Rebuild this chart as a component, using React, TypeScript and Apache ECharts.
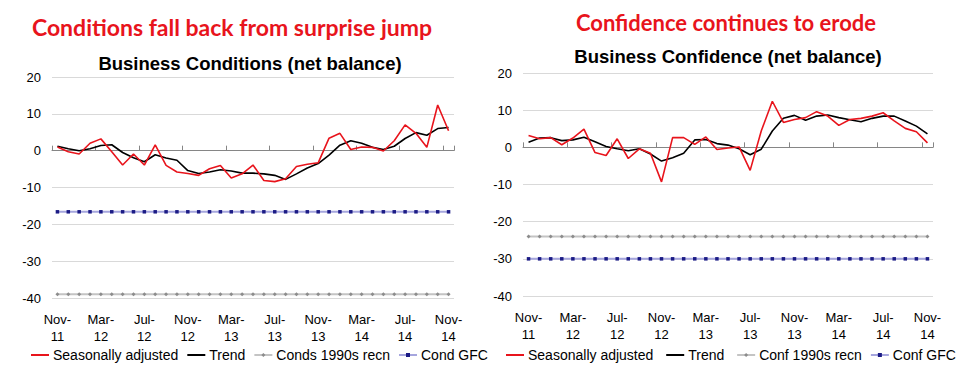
import React, { useEffect, useRef } from "react";
import * as echarts from "echarts";

const months = [
  "Nov-11", "Dec-11", "Jan-12", "Feb-12", "Mar-12", "Apr-12", "May-12", "Jun-12", "Jul-12", "Aug-12",
  "Sep-12", "Oct-12", "Nov-12", "Dec-12", "Jan-13", "Feb-13", "Mar-13", "Apr-13", "May-13", "Jun-13",
  "Jul-13", "Aug-13", "Sep-13", "Oct-13", "Nov-13", "Dec-13", "Jan-14", "Feb-14", "Mar-14", "Apr-14",
  "May-14", "Jun-14", "Jul-14", "Aug-14", "Sep-14", "Oct-14", "Nov-14",
];

const condsSA = [
  1.0, -0.3, -0.9, 2.0, 3.2, -0.3, -3.9, -0.9, -3.9, 1.6,
  -4.0, -5.8, -6.2, -6.7, -4.9, -4.0, -7.4, -6.3, -3.9, -8.1,
  -8.4, -7.6, -4.3, -3.7, -3.3, 3.4, 4.7, 0.3, 1.0, 0.9,
  -0.1, 2.7, 7.0, 4.7, 0.9, 12.4, 5.4,
];
const condsTrend = [
  1.2, 0.5, 0.0, 0.5, 1.4, 1.6, -0.5, -1.9, -3.0, -1.1,
  -2.0, -2.6, -5.4, -6.2, -5.8, -5.2, -5.5, -6.1, -6.1, -6.3,
  -6.7, -7.8, -6.3, -4.7, -3.5, -1.2, 1.5, 2.7, 2.0, 0.9,
  0.3, 1.2, 3.3, 4.9, 4.2, 6.0, 6.3,
];
const condsRecn1990sLevel = -39;
const condGFCLevel = -16.6;

const confSA = [
  3.2, 2.3, 2.6, 0.7, 2.5, 4.9, -1.4, -2.2, 2.3, -3.0,
  -0.4, -1.6, -9.3, 2.6, 2.6, 0.8, 2.8, -0.6, -0.2, 0.1,
  -6.2, 4.4, 12.4, 6.7, 7.5, 8.0, 9.6, 8.4, 5.9, 7.5,
  7.8, 8.4, 9.3, 7.1, 5.1, 4.2, 1.2,
];
const confTrend = [
  1.4, 2.5, 2.6, 1.8, 2.0, 2.7, 1.5, 0.2, -0.4, -0.9,
  -0.4, -1.8, -3.7, -2.8, -1.6, 2.0, 2.1, 1.0, 0.6, -0.4,
  -2.0, -0.5, 4.4, 7.8, 8.6, 7.3, 8.4, 8.7, 8.0, 7.4,
  6.9, 7.8, 8.4, 8.4, 7.1, 5.7, 3.6,
];
const confRecn1990sLevel = -24;
const confGFCLevel = -30;

const yTicks = { min: -40, max: 20, interval: 10 };

const condsRecn1990s = months.map(() => condsRecn1990sLevel);
const condGFC = months.map(() => condGFCLevel);
const confRecn1990s = months.map(() => confRecn1990sLevel);
const confGFC = months.map(() => confGFCLevel);

const RED = "#e8141c";
const AXIS_FONT = "Liberation Sans";

function labelAxis(gridIndex: number) {
  return {
    type: "category",
    gridIndex,
    data: months,
    boundaryGap: true,
    position: "bottom",
    axisLine: { show: false, onZero: false },
    axisTick: { show: false },
    splitLine: { show: false },
    axisLabel: {
      interval: 3,
      color: "#000",
      fontFamily: AXIS_FONT,
      fontSize: 13,
      lineHeight: 17,
      margin: 13,
      formatter: (v: string) => v.replace("-", "-\n"),
    },
  };
}

function zeroAxis(gridIndex: number) {
  return {
    type: "category",
    gridIndex,
    data: months,
    boundaryGap: true,
    position: "bottom",
    axisLine: { show: true, onZero: true, lineStyle: { color: "#868686", width: 1 } },
    axisTick: { show: true, inside: true, interval: 3, length: 5, lineStyle: { color: "#868686" } },
    axisLabel: { show: false },
    splitLine: { show: false },
  };
}

function valueAxis(gridIndex: number) {
  return {
    type: "value",
    gridIndex,
    min: yTicks.min,
    max: yTicks.max,
    interval: yTicks.interval,
    axisLine: { show: false },
    axisTick: { show: false },
    splitLine: { show: true, lineStyle: { color: "#d9d9d9", width: 1 } },
    axisLabel: { color: "#000", fontFamily: AXIS_FONT, fontSize: 13, margin: 11 },
  };
}

function lineSeries(name: string, data: number[], xi: number, yi: number, color: string) {
  return {
    name,
    type: "line",
    xAxisIndex: xi,
    yAxisIndex: yi,
    data,
    symbol: "none",
    lineStyle: { color, width: 1.6 },
    itemStyle: { color },
    z: 5,
  };
}

function recnSeries(name: string, data: number[], xi: number, yi: number) {
  return {
    name,
    type: "line",
    xAxisIndex: xi,
    yAxisIndex: yi,
    data,
    symbol: "diamond",
    symbolSize: 4,
    lineStyle: { color: "#c4c4c4", width: 2 },
    itemStyle: { color: "#8c8c8c" },
    z: 3,
  };
}

function gfcSeries(name: string, data: number[], xi: number, yi: number) {
  return {
    name,
    type: "line",
    xAxisIndex: xi,
    yAxisIndex: yi,
    data,
    symbol: "rect",
    symbolSize: 3.5,
    lineStyle: { color: "#a6a6de", width: 2 },
    itemStyle: { color: "#1b1b85" },
    z: 3,
  };
}

const legendText = { fontFamily: AXIS_FONT, fontSize: 14, color: "#000" };

function legendOf(left: number, names: string[]) {
  return {
    left,
    top: 348,
    itemWidth: 18,
    itemHeight: 5,
    itemGap: 8,
    padding: 0,
    textStyle: { ...legendText, padding: [0, 0, 0, -1] },
    data: names.map((name, i) =>
      i < 2 ? { name, itemStyle: { opacity: 0 } } : { name }
    ),
  };
}

function titleText(x: number, y: number, text: string, color: string, font: string) {
  return {
    type: "text",
    x,
    y,
    style: {
      text,
      fill: color,
      font,
      textAlign: "center",
      textVerticalAlign: "middle",
      align: "center",
      verticalAlign: "middle",
    },
  };
}

export default function App() {
  const ref = useRef<HTMLDivElement>(null);

  useEffect(() => {
    if (!ref.current) return;
    const chart = echarts.init(ref.current, undefined, { renderer: "svg" });
    chart.setOption({
      animation: false,
      backgroundColor: "#fff",
      graphic: [
        titleText(232, 27, "Conditions fall back from surprise jump", RED, "bold 23px Lato"),
        titleText(726, 22, "Confidence continues to erode", RED, "bold 22px Lato"),
        titleText(250, 63, "Business Conditions (net balance)", "#000", "bold 18.5px Liberation Sans"),
        titleText(728, 56, "Business Confidence (net balance)", "#000", "bold 18.5px Liberation Sans"),
      ],
      grid: [
        { left: 52, top: 77, width: 402, height: 221 },
        { left: 523, top: 73, width: 410, height: 223 },
      ],
      xAxis: [labelAxis(0), zeroAxis(0), labelAxis(1), zeroAxis(1)],
      yAxis: [valueAxis(0), valueAxis(1)],
      legend: [
        legendOf(30, ["Seasonally adjusted", "Trend", "Conds 1990s recn", "Cond GFC"]),
        legendOf(505, ["Seasonally adjusted ", "Trend ", "Conf 1990s recn", "Conf GFC"]),
      ],
      series: [
        recnSeries("Conds 1990s recn", condsRecn1990s, 0, 0),
        gfcSeries("Cond GFC", condGFC, 0, 0),
        lineSeries("Trend", condsTrend, 0, 0, "#000"),
        lineSeries("Seasonally adjusted", condsSA, 0, 0, RED),
        recnSeries("Conf 1990s recn", confRecn1990s, 2, 1),
        gfcSeries("Conf GFC", confGFC, 2, 1),
        lineSeries("Trend ", confTrend, 2, 1, "#000"),
        lineSeries("Seasonally adjusted ", confSA, 2, 1, RED),
      ],
    });
    return () => chart.dispose();
  }, []);

  return (
    <div
      ref={ref}
      style={{ position: "absolute", left: 0, top: 0, width: 962, height: 375 }}
    />
  );
}
